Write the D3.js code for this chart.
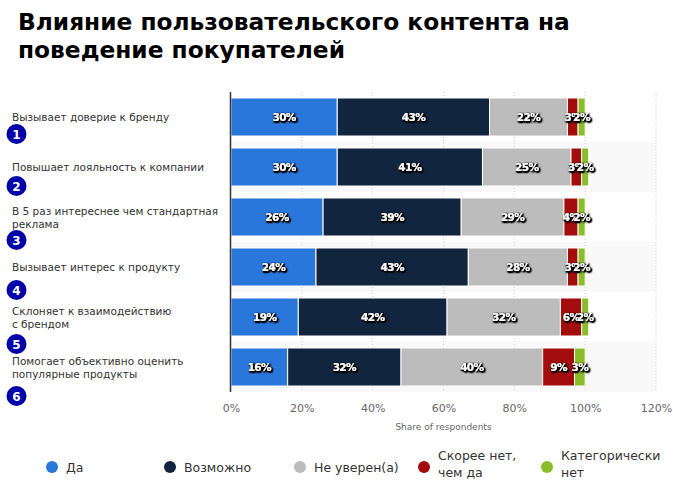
<!DOCTYPE html>
<html>
<head>
<meta charset="utf-8">
<script src="https://cdn.jsdelivr.net/npm/d3@7"></script>
<style>
  body { margin: 0; background: #ffffff; }
  text { font-family: "DejaVu Sans", Verdana, sans-serif; }
</style>
</head>
<body>
<div class="chart"></div>
<script>
// data
const categories = [
  ['Вызывает доверие к бренду'],
  ['Повышает лояльность к компании'],
  ['В 5 раз интереснее чем стандартная', 'реклама'],
  ['Вызывает интерес к продукту'],
  ['Склоняет к взаимодействию', 'с брендом'],
  ['Помогает объективно оценить', 'популярные продукты']
];
const seriesNames = ['Да', 'Возможно', 'Не уверен(а)', 'Скорее нет, чем да', 'Категорически нет'];
const yes      = [30, 30, 26, 24, 19, 16];
const maybe    = [43, 41, 39, 43, 42, 32];
const notSure  = [22, 25, 29, 28, 32, 40];
const ratherNo = [3, 3, 4, 3, 6, 9];
const no       = [2, 2, 2, 2, 2, 3];
const xTicks = [0, 20, 40, 60, 80, 100, 120];

const colors = ['#2a77dc', '#11253e', '#bcbcbc', '#a30d0d', '#8bbc2a'];
const legendLines = [['Да'], ['Возможно'], ['Не уверен(а)'], ['Скорее нет,', 'чем да'], ['Категорически', 'нет']];

const width = 673, height = 484;
const margin = { top: 92, left: 231, right: 17, bottom: 92 };

const svg = d3.select('.chart')
  .append('svg')
  .attr('width', width)
  .attr('height', height);

// shadow for bar labels
const filt = svg.append('defs').append('filter')
  .attr('id', 'shadow')
  .attr('x', '-30%').attr('y', '-50%')
  .attr('width', '160%').attr('height', '200%');
filt.append('feGaussianBlur').attr('in', 'SourceAlpha').attr('stdDeviation', 1.3).attr('result', 'b');
filt.append('feOffset').attr('in', 'b').attr('dx', 0.5).attr('dy', 0.8).attr('result', 'bo');
filt.append('feComponentTransfer').attr('in', 'bo').attr('result', 'b2')
  .append('feFuncA').attr('type', 'linear').attr('slope', 3.5);
const merge = filt.append('feMerge');
merge.append('feMergeNode').attr('in', 'b2');
merge.append('feMergeNode').attr('in', 'SourceGraphic');

// title
svg.append('text')
  .attr('x', 18).attr('y', 30)
  .style('font-size', '23.3px').style('font-weight', 'bold').attr('fill', '#000')
  .selectAll('tspan')
  .data(['Влияние пользовательского контента на', 'поведение покупателей'])
  .enter().append('tspan')
  .attr('x', 18)
  .attr('dy', (d, i) => i === 0 ? 0 : 28)
  .text(d => d);

const x = d3.scaleLinear().domain([0, 120]).range([margin.left, width - margin.right]);
const y = d3.scaleBand().domain(d3.range(categories.length))
  .range([margin.top, margin.top + 300]).paddingInner(0).paddingOuter(0);

// row stripes
svg.selectAll('.stripe')
  .data(d3.range(categories.length).filter(i => i % 2 === 1))
  .enter().append('rect')
  .attr('x', x(0)).attr('y', d => y(d))
  .attr('width', x(120) - x(0)).attr('height', y.bandwidth())
  .attr('fill', '#f9f9f9');

// grid
svg.selectAll('.grid')
  .data(xTicks.slice(1))
  .enter().append('line')
  .attr('x1', d => x(d)).attr('x2', d => x(d))
  .attr('y1', margin.top).attr('y2', margin.top + 300)
  .attr('stroke', '#cccccc').attr('stroke-dasharray', '1,2');

// stacked bars
const rows = categories.map((c, i) => ({ i, values: [yes[i], maybe[i], notSure[i], ratherNo[i], no[i]] }));
const stack = d3.stack().keys(d3.range(5)).value((d, k) => d.values[k]);
const layers = stack(rows);

const barPad = 6;
const g = svg.selectAll('.layer')
  .data(layers)
  .enter().append('g')
  .attr('fill', (d, k) => colors[k]);

g.selectAll('rect')
  .data(d => d)
  .enter().append('rect')
  .attr('x', d => x(d[0]))
  .attr('y', d => y(d.data.i) + barPad)
  .attr('width', d => x(d[1]) - x(d[0]))
  .attr('height', y.bandwidth() - barPad * 2)
  .attr('stroke', '#ffffff').attr('stroke-width', 1);

// bar labels
g.selectAll('text')
  .data(d => d)
  .enter().append('text')
  .attr('x', d => (x(d[0]) + x(d[1])) / 2)
  .attr('y', d => y(d.data.i) + y.bandwidth() / 2 + 4)
  .attr('text-anchor', 'middle')
  .attr('fill', '#ffffff')
  .attr('filter', 'url(#shadow)')
  .style('font-size', '10.5px').style('font-weight', 'bold')
  .style('letter-spacing', '-0.6px')
  .text(d => (d[1] - d[0]) + '%');

// y axis line
svg.append('line')
  .attr('x1', x(0) - 0.5).attr('x2', x(0) - 0.5)
  .attr('y1', margin.top).attr('y2', margin.top + 300)
  .attr('stroke', '#333333').attr('stroke-width', 1.5);

// x axis ticks
const xAxis = d3.axisBottom(x).tickValues(xTicks).tickFormat(d => d + '%').tickSize(0).tickPadding(0);
const ax = svg.append('g')
  .attr('transform', 'translate(0,' + (margin.top + 300 + 10) + ')')
  .call(xAxis);
ax.select('.domain').remove();
ax.selectAll('text')
  .attr('dy', '0.9em')
  .attr('fill', '#666666')
  .style('font-size', '11px')
  .style('font-family', '"DejaVu Sans", Verdana, sans-serif');

svg.append('text')
  .attr('x', (x(0) + x(120)) / 2).attr('y', 430)
  .attr('text-anchor', 'middle')
  .attr('fill', '#666666')
  .style('font-size', '9px')
  .text('Share of respondents');

// category labels with number badges
const cat = svg.selectAll('.cat')
  .data(categories)
  .enter().append('g');

cat.append('text')
  .attr('fill', '#333333')
  .style('font-size', '10.5px')
  .each(function (d, i) {
    const cy = y(i) + y.bandwidth() / 2;
    const t = d3.select(this);
    d.forEach((line, j) => {
      t.append('tspan')
        .attr('x', 12)
        .attr('y', cy + 4 + (d.length === 2 ? -6 + j * 13 : 0))
        .text(line);
    });
  });

cat.append('circle')
  .attr('cx', 16.5)
  .attr('cy', (d, i) => y(i) + y.bandwidth() / 2 + 17 + 2 * i + (d.length - 1) * 2)
  .attr('r', 10)
  .attr('fill', '#0000a8');

cat.append('text')
  .attr('x', 16.5)
  .attr('y', (d, i) => y(i) + y.bandwidth() / 2 + 17 + 2 * i + (d.length - 1) * 2 + 4.5)
  .attr('text-anchor', 'middle')
  .attr('fill', '#ffffff')
  .style('font-size', '12px').style('font-weight', 'bold')
  .text((d, i) => i + 1);

// legend
const legendX = [52, 170, 300, 424, 547];
const leg = svg.selectAll('.leg')
  .data(seriesNames)
  .enter().append('g')
  .attr('transform', (d, i) => 'translate(' + legendX[i] + ',467)');

leg.append('circle')
  .attr('r', 6)
  .attr('fill', (d, i) => colors[i]);

leg.append('text')
  .attr('fill', '#333333')
  .style('font-size', '12.5px')
  .each(function (d, i) {
    const lines = legendLines[i];
    const t = d3.select(this);
    lines.forEach((line, j) => {
      t.append('tspan')
        .attr('x', 14)
        .attr('y', lines.length === 1 ? 5 : -7 + j * 17)
        .text(line);
    });
  });
</script>
</body>
</html>
